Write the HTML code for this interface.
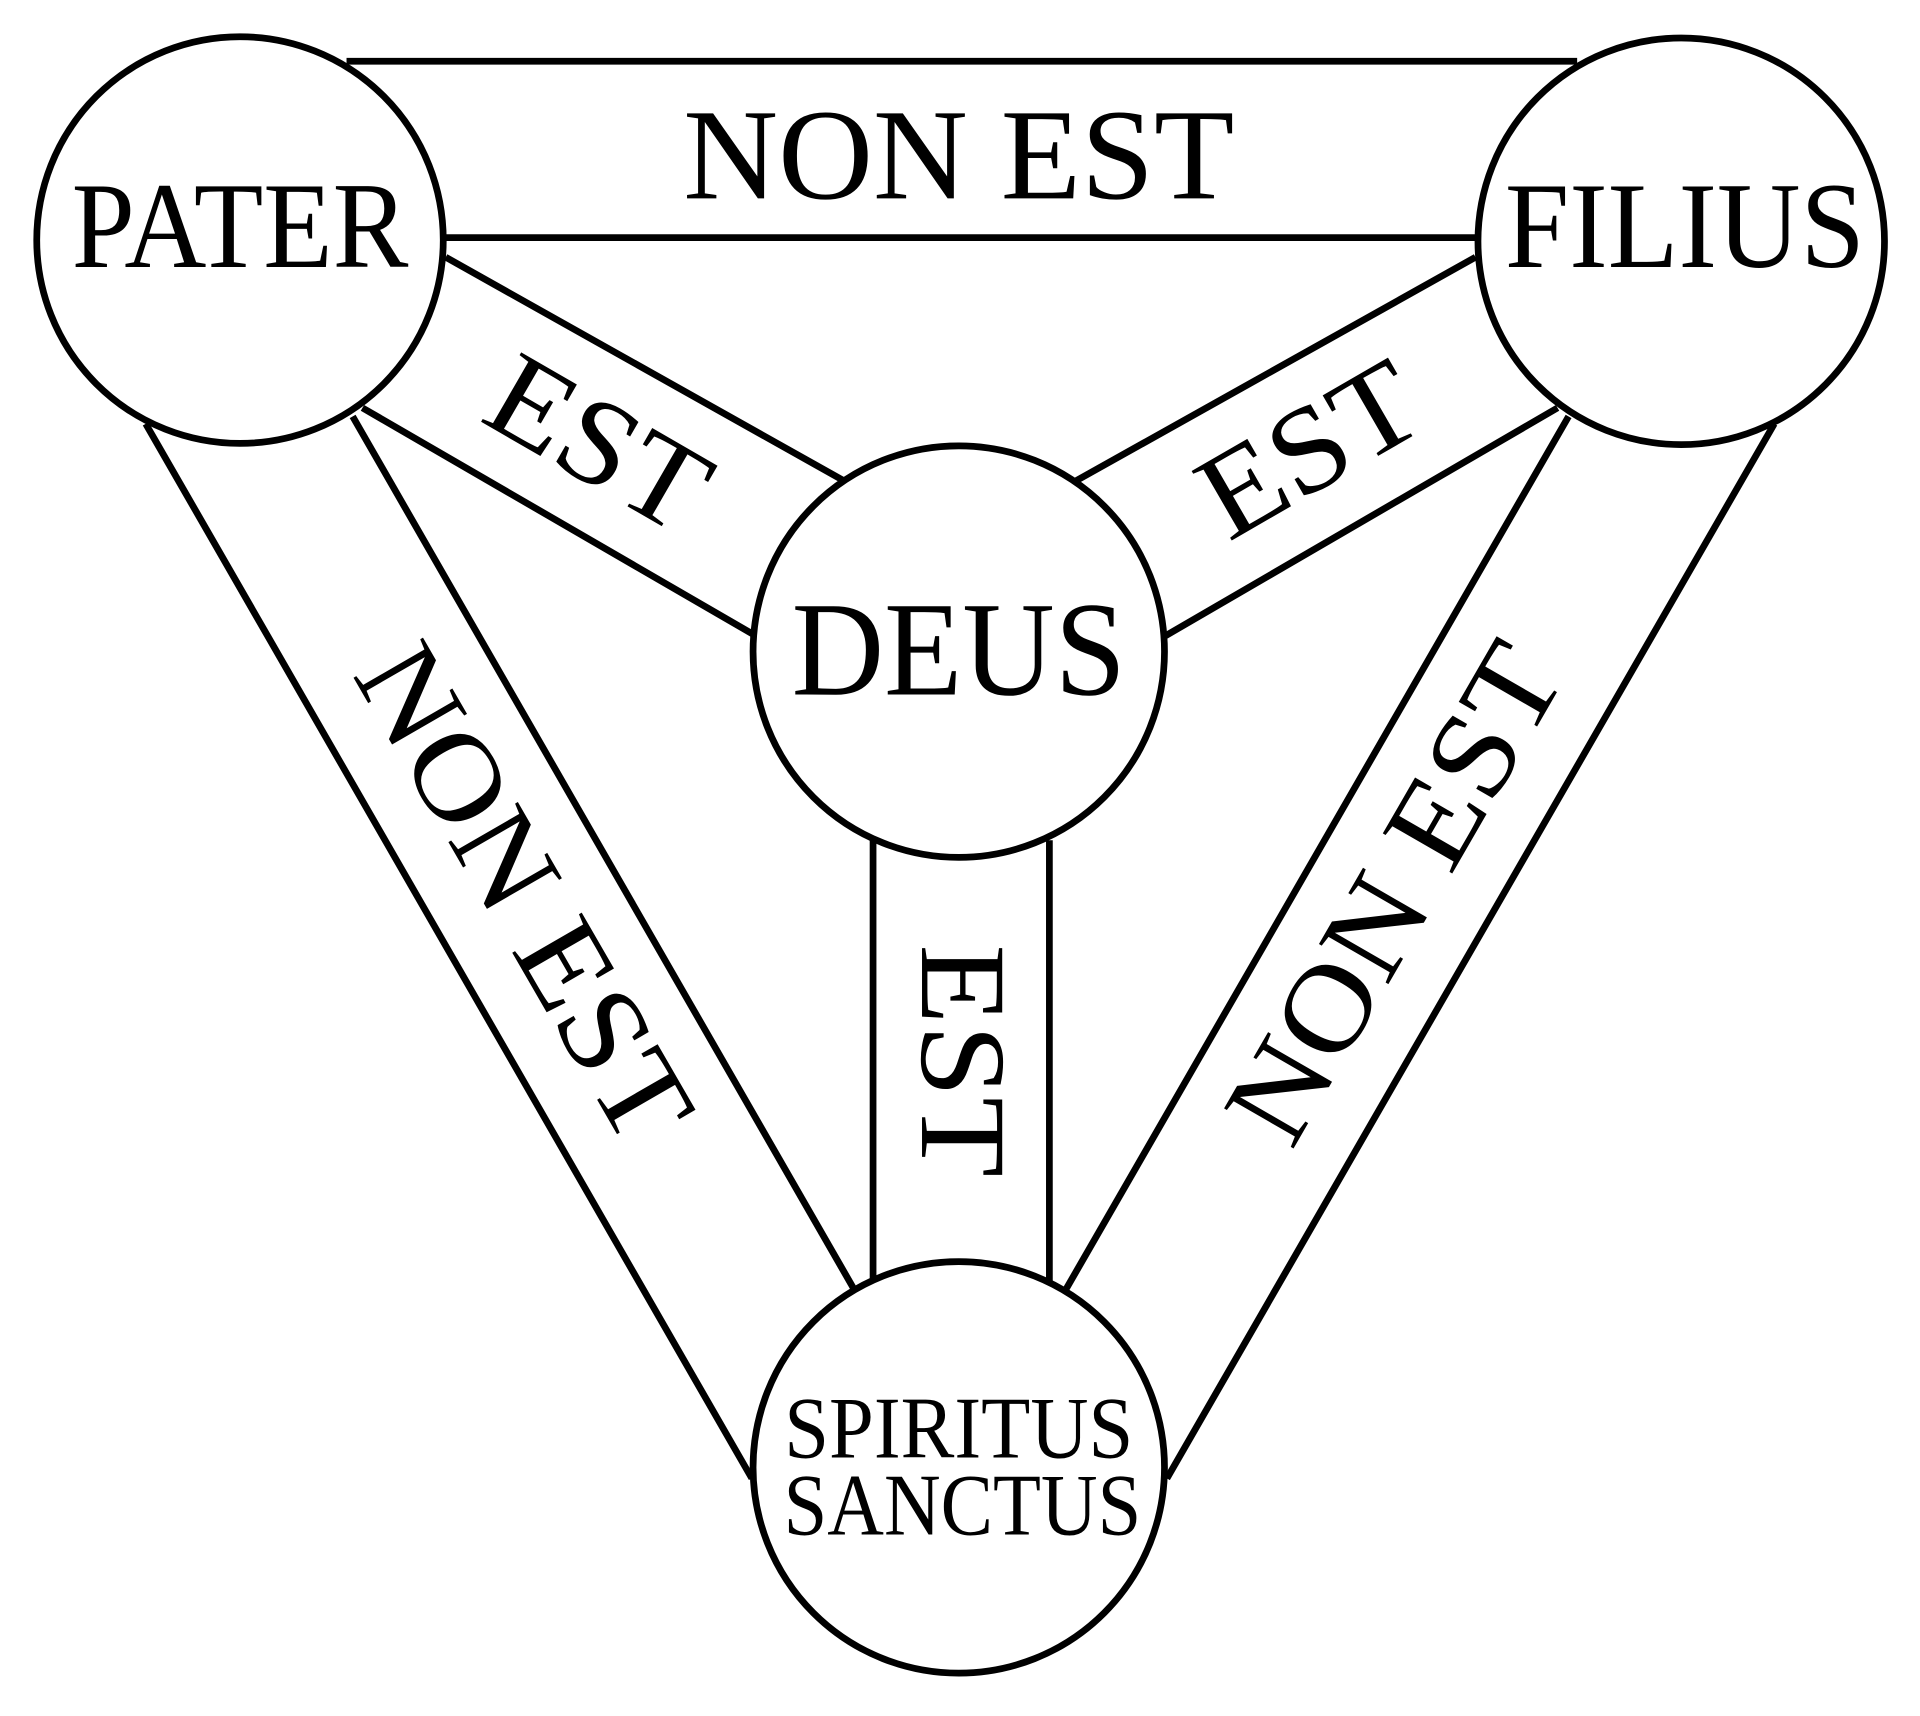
<!DOCTYPE html>
<html><head><meta charset="utf-8"><style>html,body{margin:0;padding:0;background:#fff}svg{display:block}</style></head>
<body>
<svg width="1920" height="1716" viewBox="0 0 1568 1401" preserveAspectRatio="none" xmlns="http://www.w3.org/2000/svg">
<rect width="1568" height="1401" fill="#fff"/>
<g stroke="#000" stroke-width="5.5" fill="none">
<line x1="283" y1="50" x2="1288" y2="50"/>
<line x1="364" y1="194" x2="1205" y2="194"/>
<line x1="364" y1="210" x2="690" y2="393"/>
<line x1="296" y1="333" x2="617" y2="519"/>
<line x1="1205" y1="210" x2="878" y2="393"/>
<line x1="1272" y1="333" x2="952" y2="519"/>
<line x1="713" y1="686" x2="713" y2="1053"/>
<line x1="857" y1="686" x2="857" y2="1053"/>
<line x1="119" y1="346" x2="614" y2="1207"/>
<line x1="288" y1="340" x2="700" y2="1057"/>
<line x1="1449" y1="346" x2="953" y2="1207"/>
<line x1="1281" y1="340" x2="868" y2="1057"/>
<circle cx="196" cy="196" r="166" fill="#fff"/>
<circle cx="1373" cy="197" r="166" fill="#fff"/>
<circle cx="783" cy="532" r="168" fill="#fff"/>
<circle cx="783" cy="1198" r="168" fill="#fff"/>
</g>
<g font-family="'Liberation Serif', serif" fill="#000" text-anchor="middle">
<text x="783" y="162" font-size="106" textLength="450" lengthAdjust="spacingAndGlyphs">NON EST</text>
<text x="196" y="218" font-size="100" textLength="275" lengthAdjust="spacingAndGlyphs">PATER</text>
<text x="1376" y="218" font-size="100" textLength="294" lengthAdjust="spacingAndGlyphs">FILIUS</text>
<text x="783" y="567" font-size="110" textLength="273" lengthAdjust="spacingAndGlyphs">DEUS</text>
<text x="783" y="1190" font-size="72" textLength="285" lengthAdjust="spacingAndGlyphs">SPIRITUS</text>
<text x="786" y="1253" font-size="72" textLength="292" lengthAdjust="spacingAndGlyphs">SANCTUS</text>
<text transform="translate(490,360) rotate(30)" y="35" font-size="100" textLength="190" lengthAdjust="spacingAndGlyphs">EST</text>
<text transform="translate(1068,365) rotate(-30)" y="35" font-size="100" textLength="190" lengthAdjust="spacingAndGlyphs">EST</text>
<text transform="translate(788,866) rotate(90)" y="35" font-size="100" textLength="190" lengthAdjust="spacingAndGlyphs">EST</text>
<text transform="translate(430,728) rotate(60)" y="35" font-size="100" textLength="450" lengthAdjust="spacingAndGlyphs">NON EST</text>
<text transform="translate(1137,728) rotate(-60)" y="35" font-size="100" textLength="450" lengthAdjust="spacingAndGlyphs">NON EST</text>
</g>
</svg>
</body></html>
